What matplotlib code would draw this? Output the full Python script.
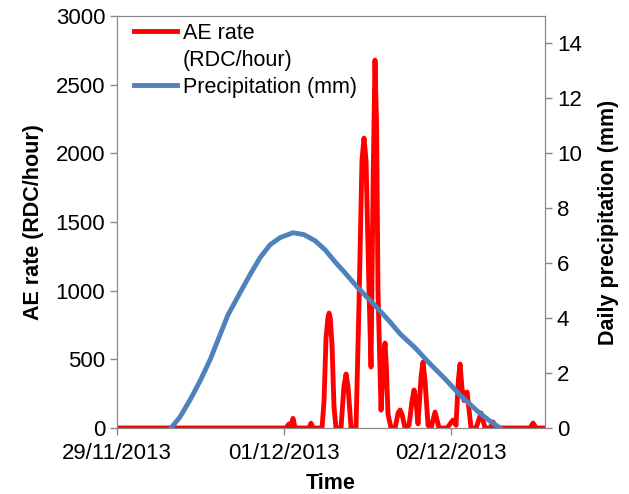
import matplotlib.pyplot as plt
from matplotlib.lines import Line2D

plt.rcParams['font.family'] = ['Liberation Sans', 'DejaVu Sans']

# time in hours from the 29/11/2013 tick
ae_hours = [0, 24.28, 24.57, 24.72, 25.0, 25.29, 25.58, 27.59, 27.88, 28.17,
            29.46, 29.75, 30.03, 30.3, 30.47, 30.64, 30.9, 31.18, 31.47,
            32.19, 32.6, 32.91, 33.2, 33.63,
            34.34, 34.77, 35.2, 35.49, 35.78, 36.21, 36.5, 36.8, 37.07, 37.3,
            37.5, 37.94, 38.3, 38.51, 38.7, 38.94, 39.37,
            39.95, 40.4, 40.67, 40.95, 41.39, 41.96, 42.4, 42.68, 42.95, 43.25,
            43.7, 43.97, 44.25, 44.69, 45.12, 45.7, 46.27,
            47.42, 48.28, 48.71, 49.05, 49.29, 49.55, 49.86, 50.3, 50.87,
            51.59, 52.31, 52.88, 53.6, 54.03, 54.46, 59.35, 59.78, 60.21, 61.5]
ae_rate = [0, 0, 20, 30, 15, 70, 0, 0, 35, 0,
           0, 200, 650, 800, 837, 800, 600, 150, 0,
           0, 300, 393, 300, 0,
           0, 900, 1950, 2111, 1950, 1000, 444, 1800, 2679, 2200,
           1000, 130, 500, 619, 450, 100, 0,
           0, 110, 131, 100, 0, 20, 200, 277, 200, 30,
           380, 480, 350, 20, 0, 116, 0,
           0, 58, 20, 350, 466, 300, 200, 262, 0,
           0, 109, 0, 0, 44, 0, 0, 36, 0, 0]

precip_hours = [7.76, 9.05, 10.49, 11.93, 13.37, 15.95, 17.67, 19.11, 20.55,
                21.99, 23.42, 25.29, 26.87, 28.45, 29.89, 31.33, 32.76, 34.49,
                35.93, 37.37, 39.24, 40.67, 42.83, 45.0, 47.13, 49.29, 50.73,
                52.17, 53.6, 55.04]
precip_mm = [0, 0.40, 1.02, 1.71, 2.48, 4.12, 4.92, 5.58, 6.20,
             6.67, 6.93, 7.11, 7.04, 6.82, 6.49, 6.05, 5.65, 5.14,
             4.76, 4.38, 3.86, 3.43, 2.92, 2.33, 1.79, 1.20, 0.86,
             0.53, 0.25, 0]

x_ticks = [0, 24, 48]
x_labels = ["29/11/2013", "01/12/2013", "02/12/2013"]

grey = "#898989"

fig = plt.figure(figsize=(6.29, 4.94), dpi=100)
ax = fig.add_axes([0.186, 0.1336, 0.6805, 0.834])
ax2 = ax.twinx()

l1, = ax.plot(ae_hours, ae_rate, color="#FF0000", lw=3.5,
              solid_joinstyle="round", label="AE rate")
l2, = ax2.plot(precip_hours, precip_mm, color="#4F81BD", lw=3.5,
               solid_joinstyle="round", label="Precipitation (mm)")

ax.set_xlim(0, 61.5)
ax.set_ylim(0, 3000)
ax2.set_ylim(0, 15)
ax.set_yticks(range(0, 3001, 500))
ax2.set_yticks(range(0, 15, 2))
ax.set_xticks(x_ticks)
ax.set_xticklabels(x_labels)

for a in (ax, ax2):
    for s in a.spines.values():
        s.set_color(grey)
    a.tick_params(colors=grey, labelcolor="black", labelsize=16, length=5, width=1)
ax.tick_params(axis="x", pad=6)

ax.set_xlabel("Time", fontsize=15.5, fontweight="bold", labelpad=6)
ax.set_ylabel("AE rate (RDC/hour)", fontsize=15.5, fontweight="bold", labelpad=8)
ax2.set_ylabel("Daily precipitation (mm)", fontsize=15.5, fontweight="bold", labelpad=12)

# second line of the AE label sits under the first, like the original legend
blank = Line2D([], [], color="none")
ax2.legend(handles=[l1, blank, l2],
           labels=["AE rate", "(RDC/hour)", "Precipitation (mm)"],
           loc="upper left", frameon=False, fontsize=15.5,
           handlelength=2.0, handletextpad=0.25, labelspacing=0.28,
           borderaxespad=0.0, bbox_to_anchor=(0.02, 1.005))

fig.savefig("out.png", dpi=100)
print("saved: out.png")
